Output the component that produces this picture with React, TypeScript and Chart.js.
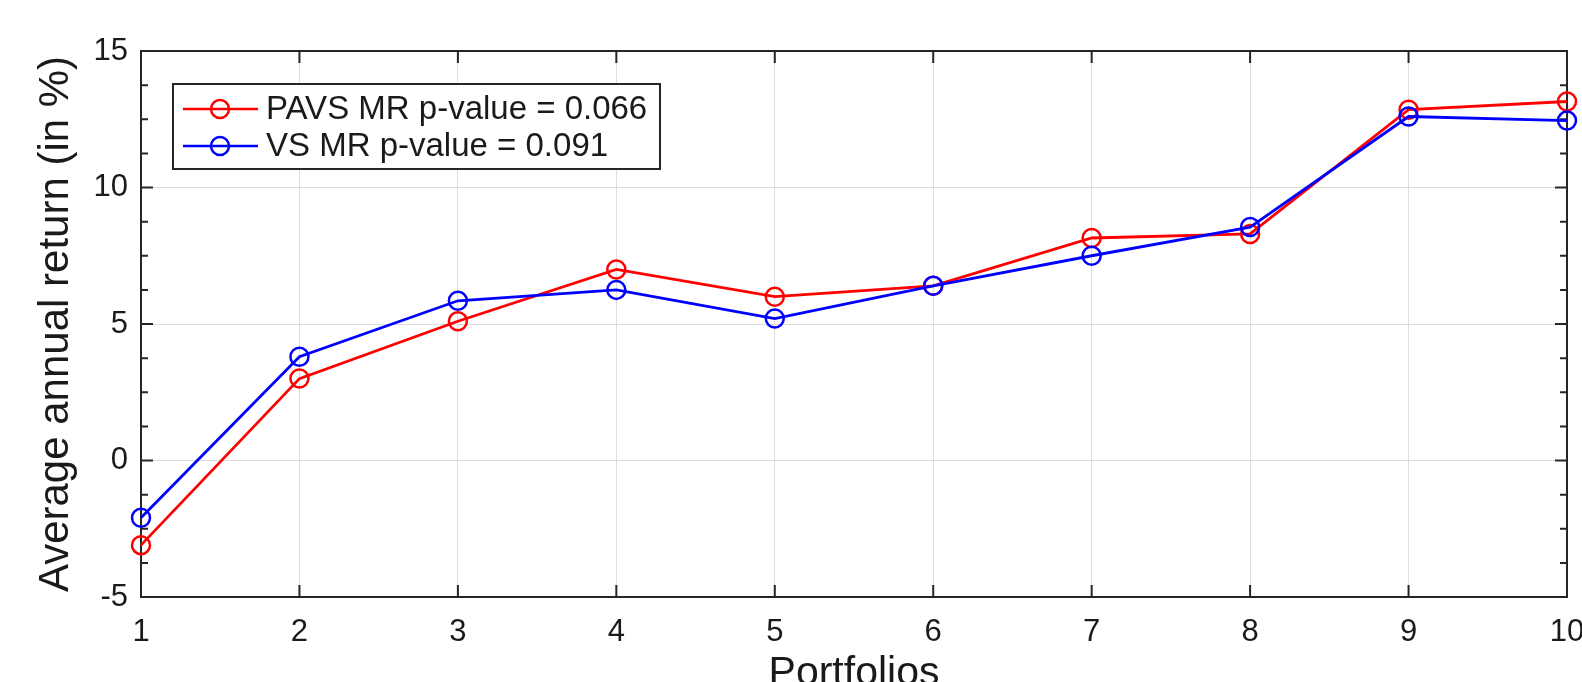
import React, { useEffect, useRef } from 'react';
import { Chart, registerables } from 'chart.js';

Chart.register(...registerables);

// ---- Data ----
const portfolios = [1, 2, 3, 4, 5, 6, 7, 8, 9, 10];
const pavsReturns = [-3.1, 3.0, 5.1, 7.0, 6.0, 6.4, 8.15, 8.3, 12.85, 13.15];
const vsReturns = [-2.1, 3.8, 5.85, 6.25, 5.2, 6.4, 7.5, 8.55, 12.6, 12.45];
const seriesLabels = ['PAVS MR p-value = 0.066', 'VS MR p-value = 0.091'];
const seriesColors = ['#ff0000', '#0000ff'];
const yTickValues = [-5, 0, 5, 10, 15];
const yMinorStep = 1.25;
const xTitle = 'Portfolios';
const yTitle = 'Average annual return (in %)';

const FONT = "'Liberation Sans', Arial, Helvetica, sans-serif";
const AXIS_COLOR = '#262626';
const TEXT_COLOR = '#1a1a1a';

const framePlugin = {
  id: 'matlabFrame',
  beforeDatasetsDraw(chart: any) {
    const { ctx, chartArea } = chart;
    const { left, right, top, bottom } = chartArea;
    const xs = chart.scales.x;
    const ys = chart.scales.y;
    ctx.save();
    ctx.strokeStyle = AXIS_COLOR;
    ctx.lineWidth = 2;
    ctx.beginPath();
    const major = 12;
    const minor = 7;
    portfolios.forEach((v) => {
      const px = xs.getPixelForValue(v);
      ctx.moveTo(px, bottom);
      ctx.lineTo(px, bottom - major);
      ctx.moveTo(px, top);
      ctx.lineTo(px, top + major);
    });
    yTickValues.forEach((v) => {
      const py = ys.getPixelForValue(v);
      ctx.moveTo(left, py);
      ctx.lineTo(left + major, py);
      ctx.moveTo(right, py);
      ctx.lineTo(right - major, py);
    });
    const yMin = yTickValues[0];
    const yMax = yTickValues[yTickValues.length - 1];
    for (let v = yMin + yMinorStep; v < yMax; v += yMinorStep) {
      if (yTickValues.some((t) => Math.abs(t - v) < 1e-6)) continue;
      const py = ys.getPixelForValue(v);
      ctx.moveTo(left, py);
      ctx.lineTo(left + minor, py);
      ctx.moveTo(right, py);
      ctx.lineTo(right - minor, py);
    }
    ctx.stroke();
    ctx.strokeRect(left, top, right - left, bottom - top);
    ctx.restore();
  },
};

const legendPlugin = {
  id: 'matlabLegend',
  afterDraw(chart: any) {
    const { ctx, chartArea } = chart;
    const bx = chartArea.left + 32;
    const by = chartArea.top + 33;
    const bw = 487;
    const bh = 85;
    ctx.save();
    ctx.fillStyle = '#ffffff';
    ctx.fillRect(bx, by, bw, bh);
    ctx.strokeStyle = AXIS_COLOR;
    ctx.lineWidth = 2;
    ctx.strokeRect(bx, by, bw, bh);
    seriesLabels.forEach((label, i) => {
      const cy = by + 25 + i * 37;
      ctx.strokeStyle = seriesColors[i];
      ctx.lineWidth = 2.5;
      ctx.beginPath();
      ctx.moveTo(bx + 10, cy);
      ctx.lineTo(bx + 85, cy);
      ctx.stroke();
      ctx.beginPath();
      ctx.arc(bx + 47, cy, 9, 0, Math.PI * 2);
      ctx.stroke();
      ctx.fillStyle = TEXT_COLOR;
      ctx.font = `33px ${FONT}`;
      ctx.textBaseline = 'middle';
      ctx.textAlign = 'left';
      ctx.fillText(label, bx + 93, cy + 1);
    });
    ctx.restore();
  },
};

export default function App() {
  const canvasRef = useRef<HTMLCanvasElement | null>(null);

  useEffect(() => {
    document.body.style.margin = '0';
    const canvas = canvasRef.current;
    if (!canvas) return;
    const makeData = (vals: number[]) => portfolios.map((x, i) => ({ x, y: vals[i] }));
    const makeSet = (i: number, vals: number[], order: number) => ({
      label: seriesLabels[i],
      data: makeData(vals),
      borderColor: seriesColors[i],
      backgroundColor: 'rgba(0,0,0,0)',
      pointBorderColor: seriesColors[i],
      pointBackgroundColor: 'rgba(0,0,0,0)',
      borderWidth: 2.8,
      pointRadius: 9,
      pointBorderWidth: 2.5,
      pointStyle: 'circle',
      tension: 0,
      clip: false as any,
      order,
    });
    const chart = new Chart(canvas, {
      type: 'line',
      data: {
        datasets: [makeSet(0, pavsReturns, 1), makeSet(1, vsReturns, 0)] as any,
      },
      options: {
        responsive: true,
        maintainAspectRatio: false,
        animation: false,
        events: [],
        layout: { padding: { top: 51, right: 15, left: 0, bottom: 0 } },
        plugins: {
          legend: { display: false },
          tooltip: { enabled: false },
          title: { display: false },
        },
        scales: {
          x: {
            type: 'linear',
            min: 1,
            max: 10,
            afterBuildTicks: (scale: any) => {
              scale.ticks = portfolios.map((v) => ({ value: v }));
            },
            afterFit: (scale: any) => {
              scale.height = 85;
              scale.paddingLeft = 0;
              scale.paddingRight = 0;
            },
            ticks: {
              color: TEXT_COLOR,
              font: { family: FONT, size: 31 },
              padding: 17,
              maxRotation: 0,
              autoSkip: false,
              callback: (v: any) => String(v),
            },
            grid: { color: '#dedede', lineWidth: 1, drawTicks: false },
            border: { display: false },
            title: {
              display: true,
              text: xTitle,
              color: TEXT_COLOR,
              font: { family: FONT, size: 41, lineHeight: 0.4 },
              padding: { top: 0, bottom: 0 },
            },
          },
          y: {
            type: 'linear',
            min: -5,
            max: 15,
            afterBuildTicks: (scale: any) => {
              scale.ticks = yTickValues.map((v) => ({ value: v }));
            },
            afterFit: (scale: any) => {
              scale.width = 141;
              scale.paddingTop = 0;
              scale.paddingBottom = 0;
            },
            ticks: {
              color: TEXT_COLOR,
              font: { family: FONT, size: 31 },
              padding: 13,
              callback: (v: any) => String(v),
            },
            grid: { color: '#dedede', lineWidth: 1, drawTicks: false },
            border: { display: false },
            title: {
              display: true,
              text: yTitle,
              color: TEXT_COLOR,
              font: { family: FONT, size: 42, lineHeight: 1 },
              padding: { top: 35, bottom: 0 },
            },
          },
        },
      },
      plugins: [framePlugin, legendPlugin],
    });
    return () => chart.destroy();
  }, []);

  return (
    <div style={{ position: 'fixed', left: 0, top: 0, width: 1582, height: 682, background: '#ffffff' }}>
      <canvas ref={canvasRef} />
    </div>
  );
}
